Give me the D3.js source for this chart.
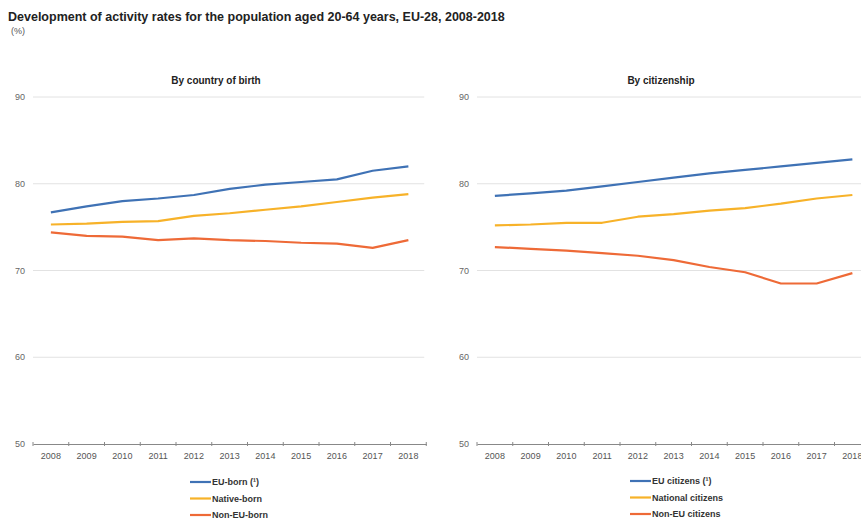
<!DOCTYPE html>
<html>
<head>
<meta charset="utf-8">
<script src="https://cdn.jsdelivr.net/npm/d3@7"></script>
<style>
  body { margin: 0; background: #fff; }
  svg { display: block; font-family: "Liberation Sans", Arial, sans-serif; }
</style>
</head>
<body>
<svg id="chart" width="861" height="521"></svg>
<script>
const years = ["2008","2009","2010","2011","2012","2013","2014","2015","2016","2017","2018"];
const yTicks = [50, 60, 70, 80, 90];

const euBorn      = [76.7, 77.4, 78.0, 78.3, 78.7, 79.4, 79.9, 80.2, 80.5, 81.5, 82.0];
const nativeBorn  = [75.3, 75.4, 75.6, 75.7, 76.3, 76.6, 77.0, 77.4, 77.9, 78.4, 78.8];
const nonEuBorn   = [74.4, 74.0, 73.9, 73.5, 73.7, 73.5, 73.4, 73.2, 73.1, 72.6, 73.5];

const euCitizens       = [78.6, 78.9, 79.2, 79.7, 80.2, 80.7, 81.2, 81.6, 82.0, 82.4, 82.8];
const nationalCitizens = [75.2, 75.3, 75.5, 75.5, 76.2, 76.5, 76.9, 77.2, 77.7, 78.3, 78.7];
const nonEuCitizens    = [72.7, 72.5, 72.3, 72.0, 71.7, 71.2, 70.4, 69.8, 68.5, 68.5, 69.7];

const colors = ["#3f72b5", "#f7b229", "#ee6a37"];

const panels = [
  { title: "By country of birth", x0: 33, names: ["EU-born (\u00b9)", "Native-born", "Non-EU-born"],
    series: [euBorn, nativeBorn, nonEuBorn], labelX: 25, legX: 190, legY: 482, titleX: 216 },
  { title: "By citizenship", x0: 477, names: ["EU citizens (\u00b9)", "National citizens", "Non-EU citizens"],
    series: [euCitizens, nationalCitizens, nonEuCitizens], labelX: 469, legX: 630, legY: 481, titleX: 661 }
];

const svg = d3.select("#chart");

svg.append("text").attr("x", 8).attr("y", 21)
  .attr("font-size", 12.5).attr("font-weight", "bold").attr("fill", "#222")
  .text("Development of activity rates for the population aged 20-64 years, EU-28, 2008-2018");
svg.append("text").attr("x", 11).attr("y", 34)
  .attr("font-size", 9).attr("fill", "#555").text("(%)");

const bandW = 35.75;
const y = d3.scaleLinear().domain([50, 90]).range([444, 97]);

panels.forEach(p => {
  const x = d3.scaleBand().domain(years).range([p.x0, p.x0 + bandW * years.length]).padding(0);
  const g = svg.append("g");

  g.append("text").attr("x", p.titleX)
    .attr("y", 84).attr("text-anchor", "middle")
    .attr("font-size", 10).attr("font-weight", "bold").attr("fill", "#222").text(p.title);

  // gridlines
  g.selectAll(".grid").data(yTicks.filter(t => t !== 50)).enter().append("line")
    .attr("x1", p.x0).attr("x2", p.x0 + bandW * years.length - 2)
    .attr("y1", d => y(d)).attr("y2", d => y(d))
    .attr("stroke", "#e2e2e2").attr("stroke-width", 1);

  // y labels
  g.selectAll(".yl").data(yTicks).enter().append("text")
    .attr("x", p.labelX).attr("y", d => y(d) + 3)
    .attr("text-anchor", "end").attr("font-size", 9).attr("fill", "#666")
    .text(d => d);

  // x axis
  const ax = g.append("g").attr("transform", `translate(0,${y(50)})`)
    .call(d3.axisBottom(x).tickSize(0).tickPadding(9));
  ax.select(".domain").attr("stroke", "#888");
  ax.selectAll("text").attr("font-size", 9).attr("fill", "#555")
    .attr("font-family", "\"Liberation Sans\", Arial, sans-serif");
  const boundaries = years.map(yv => x(yv)).concat([x(years[years.length - 1]) + bandW]);
  g.selectAll(".tk").data(boundaries).enter().append("line")
    .attr("x1", d => d).attr("x2", d => d)
    .attr("y1", y(50) - 2).attr("y2", y(50) + 2)
    .attr("stroke", "#888");

  const line = d3.line()
    .x((d, i) => x(years[i]) + bandW / 2)
    .y(d => y(d));

  p.series.forEach((s, i) => {
    g.append("path").datum(s).attr("d", line)
      .attr("fill", "none").attr("stroke", colors[i]).attr("stroke-width", 2.2)
      .attr("stroke-linejoin", "round");
  });

  // legend
  p.names.forEach((n, i) => {
    const ly = p.legY + i * 16.5;
    g.append("line").attr("x1", p.legX).attr("x2", p.legX + 21)
      .attr("y1", ly).attr("y2", ly).attr("stroke", colors[i]).attr("stroke-width", 2.2);
    g.append("text").attr("x", p.legX + 22).attr("y", ly + 3.3)
      .attr("font-size", 9).attr("font-weight", "bold").attr("fill", "#333").text(n);
  });
});
</script>
</body>
</html>
